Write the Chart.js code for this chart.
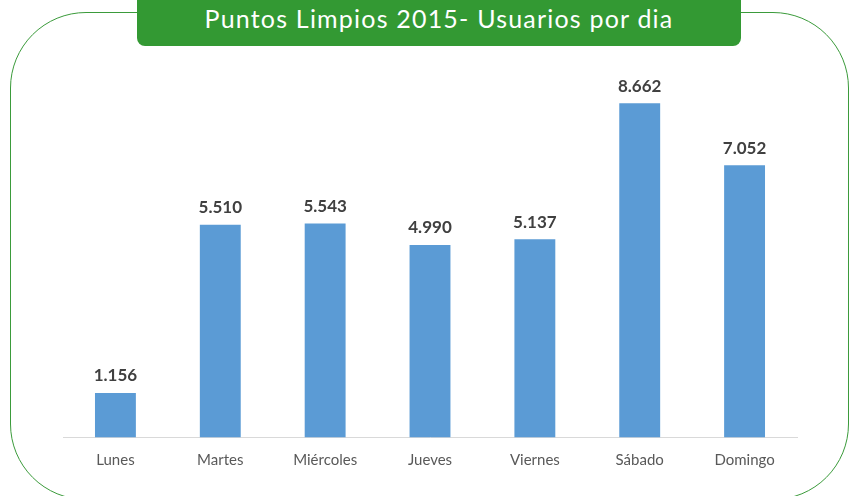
<!DOCTYPE html>
<html>
<head>
<meta charset="utf-8">
<script src="https://cdn.jsdelivr.net/npm/chart.js@4"></script>
<style>
  html, body { margin: 0; padding: 0; background: #fff; }
  #wrap { position: relative; width: 851px; height: 496px; overflow: hidden; }
  #frame {
    position: absolute; left: 10px; top: 12px; width: 837px; height: 486px;
    border: 1px solid #3b9b3b; border-radius: 76px;
  }
  #title {
    position: absolute; left: 137px; top: 0; width: 604px; height: 46px;
    background: #339933; border-radius: 0 0 8px 8px;
    color: #fff; font-family: Lato, sans-serif; font-size: 25px; letter-spacing: 1.2px;
    text-align: center; line-height: 36px; white-space: nowrap;
  }
  canvas { position: absolute; left: 0; top: 0; }
</style>
</head>
<body>
<div id="wrap">
  <div id="frame"></div>
  <canvas id="chart" width="851" height="496"></canvas>
  <div id="title">Puntos Limpios 2015- Usuarios por dia</div>
</div>
<script>
// ── Data ─────────────────────────────────────────
const days = ['Lunes', 'Martes', 'Miércoles', 'Jueves', 'Viernes', 'Sábado', 'Domingo'];
const users = [1156, 5510, 5543, 4990, 5137, 8662, 7052];

// 8662 -> "8.662"
const fmt = v => String(v).replace(/\B(?=(\d{3})+(?!\d))/g, '.');

// ── Value labels above bars ──────────────────────
const barLabels = {
  id: 'barLabels',
  afterDatasetsDraw(chart) {
    const ctx = chart.ctx;
    const meta = chart.getDatasetMeta(0);
    ctx.save();
    ctx.font = 'bold 17px Lato, sans-serif';
    ctx.fillStyle = '#404040';
    ctx.textAlign = 'center';
    ctx.textBaseline = 'alphabetic';
    meta.data.forEach((bar, i) => {
      ctx.fillText(fmt(users[i]), bar.x, bar.y - 11.5);
    });
    ctx.restore();
  }
};

new Chart(document.getElementById('chart'), {
  type: 'bar',
  data: {
    labels: days,
    datasets: [{
      data: users,
      backgroundColor: '#5b9bd5',
      barPercentage: 0.39,
      categoryPercentage: 1,
    }]
  },
  options: {
    responsive: false,
    animation: false,
    layout: { padding: { left: 63, right: 54, top: 51.5, bottom: 21.5 } },
    plugins: { legend: { display: false }, tooltip: { enabled: false } },
    scales: {
      x: {
        grid: { display: false },
        border: { display: true, color: '#d9d9d9', width: 1 },
        ticks: { color: '#595959', padding: 5.5, font: { family: 'Lato', size: 15 } },
      },
      y: { display: false, min: 0, max: 10000 },
    },
  },
  plugins: [barLabels],
});
</script>
</body>
</html>
